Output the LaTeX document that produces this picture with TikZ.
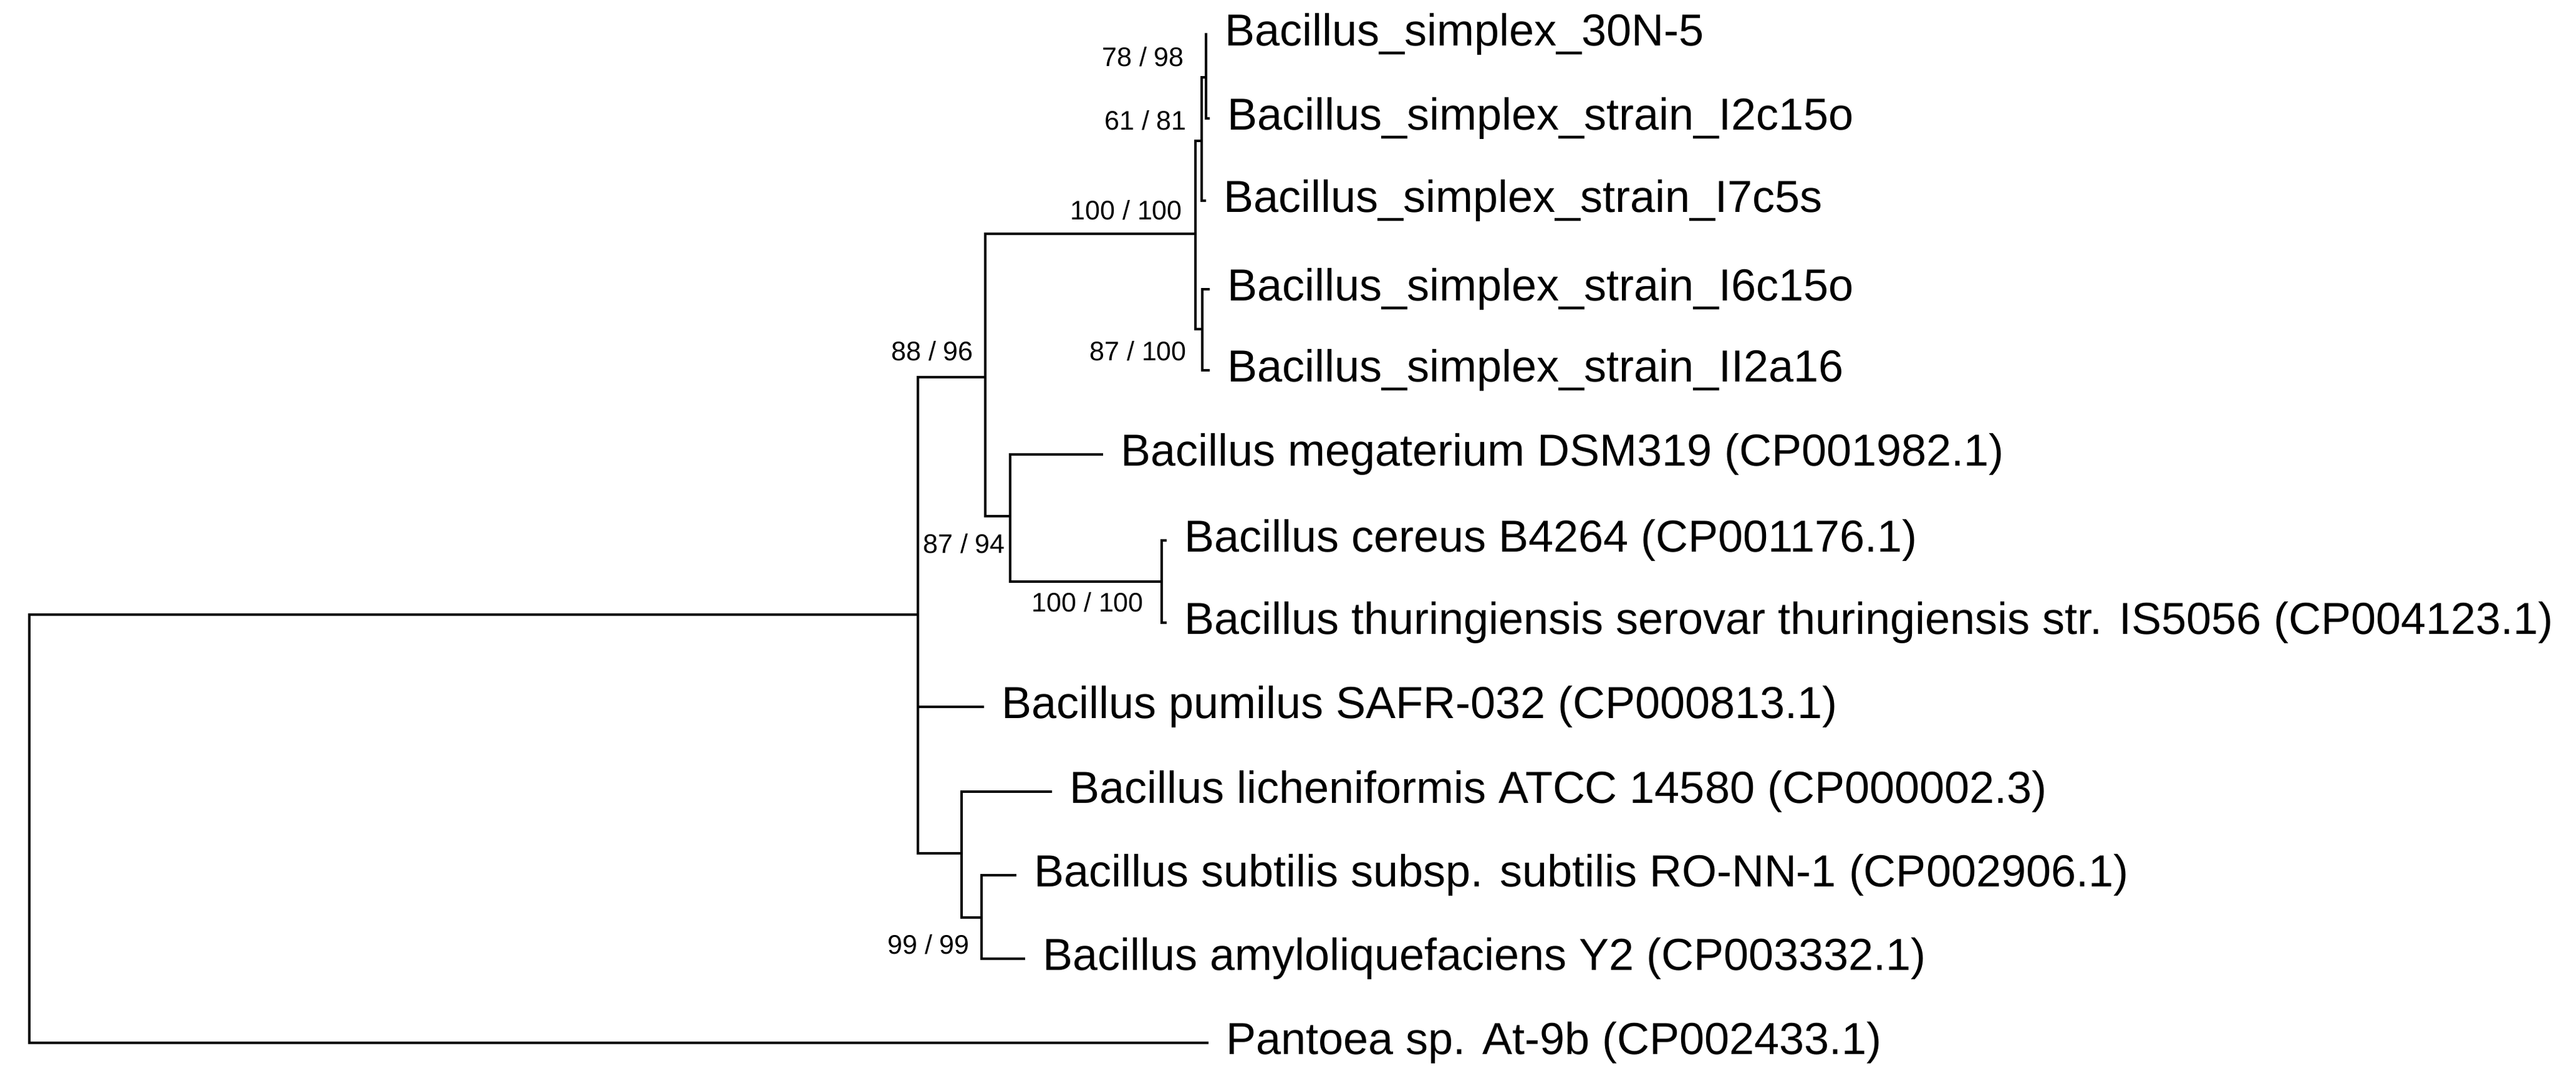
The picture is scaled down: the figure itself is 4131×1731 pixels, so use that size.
\documentclass[tikz,border=0pt]{standalone}
\usepackage{fontspec}
\setmainfont{Liberation Sans}
\begin{document}
\begin{tikzpicture}[x=1pt,y=-1pt,
  br/.style={line width=4pt,line cap=rect},
  tip/.style={anchor=west,inner sep=0pt,xshift=30pt,font=\fontsize{72}{76}\selectfont},
  bs/.style={inner sep=0pt,anchor=east,font=\fontsize{43}{46}\selectfont}]
\useasboundingbox (0,0) rectangle (4131,1731);
% leaves
\coordinate (l1) at (1934,55);
\coordinate (l2) at (1938,190);
\coordinate (l3) at (1932,322);
\coordinate (l4) at (1938,464);
\coordinate (l5) at (1938,594);
\coordinate (l6) at (1767,729);
\coordinate (l7) at (1869,867);
\coordinate (l8) at (1869,999);
\coordinate (l9) at (1576,1134);
\coordinate (l10) at (1685,1270);
\coordinate (l11) at (1628,1404);
\coordinate (l12) at (1642,1538);
\coordinate (l13) at (1936,1673);
% internal
\coordinate (a) at (1934,124);
\coordinate (b) at (1927,226);
\coordinate (c) at (1928,528);
\coordinate (d) at (1917,375);
\coordinate (e) at (1863,933);
\coordinate (f) at (1620,828);
\coordinate (g) at (1580,605);
\coordinate (h) at (1574,1472);
\coordinate (i) at (1542,1369);
\coordinate (j) at (1472,986);
\coordinate (r) at (47,1330);
% branches
\draw[br] (a) |- (l1); \draw[br] (a) |- (l2);
\draw[br] (b) |- (a); \draw[br] (b) |- (l3);
\draw[br] (c) |- (l4); \draw[br] (c) |- (l5);
\draw[br] (d) |- (b); \draw[br] (d) |- (c);
\draw[br] (e) |- (l7); \draw[br] (e) |- (l8);
\draw[br] (f) |- (l6); \draw[br] (f) |- (e);
\draw[br] (g) |- (d); \draw[br] (g) |- (f);
\draw[br] (h) |- (l11); \draw[br] (h) |- (l12);
\draw[br] (i) |- (l10); \draw[br] (i) |- (h);
\draw[br] (j) |- (g); \draw[br] (j) |- (l9); \draw[br] (j) |- (i);
\draw[br] (r) |- (j); \draw[br] (r) |- (l13);
% leaf labels
\node[tip] (t1) at (l1) {Bacillus\_simplex\_30N-5};
\node[tip] (t2) at (l2) {Bacillus\_simplex\_strain\_I2c15o};
\node[tip] (t3) at (l3) {Bacillus\_simplex\_strain\_I7c5s};
\node[tip] (t4) at (l4) {Bacillus\_simplex\_strain\_I6c15o};
\node[tip] (t5) at (l5) {Bacillus\_simplex\_strain\_II2a16};
\node[tip] (t6) at (l6) {Bacillus megaterium DSM319 (CP001982.1)};
\node[tip] (t7) at (l7) {Bacillus cereus B4264 (CP001176.1)};
\node[tip] (t8) at (l8) {Bacillus thuringiensis serovar thuringiensis str. IS5056 (CP004123.1)};
\node[tip] (t9) at (l9) {Bacillus pumilus SAFR-032 (CP000813.1)};
\node[tip] (t10) at (l10) {Bacillus licheniformis ATCC 14580 (CP000002.3)};
\node[tip] (t11) at (l11) {Bacillus subtilis subsp. subtilis RO-NN-1 (CP002906.1)};
\node[tip] (t12) at (l12) {Bacillus amyloliquefaciens Y2 (CP003332.1)};
\node[tip] (t13) at (l13) {Pantoea sp. At-9b (CP002433.1)};
% bootstrap labels
\node[bs] (s1) at (1899,91) {78 / 98};
\node[bs] (s2) at (1903,193) {61 / 81};
\node[bs] (s3) at (1896,337) {100 / 100};
\node[bs] (s4) at (1903,563) {87 / 100};
\node[bs] (s5) at (1561,563) {88 / 96};
\node[bs] (s6) at (1612,872) {87 / 94};
\node[bs] (s7) at (1834,966) {100 / 100};
\node[bs] (s8) at (1555,1515) {99 / 99};
\end{tikzpicture}
\end{document}
